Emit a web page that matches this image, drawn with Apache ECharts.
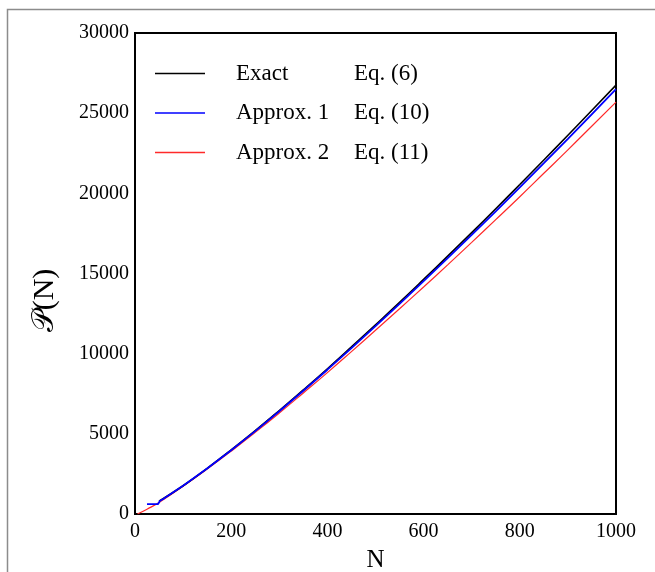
<!DOCTYPE html>
<html>
<head>
<meta charset="utf-8">
<script src="https://cdn.jsdelivr.net/npm/echarts@6/dist/echarts.min.js"></script>
<style>
  html, body { margin: 0; padding: 0; background: #fff; }
  #chart { width: 655px; height: 572px; }
</style>
</head>
<body>
<div id="chart"></div>
<script>
// values
var nExact = [50, 100, 150, 200, 250, 300, 350, 400, 450, 500, 550, 600, 650, 700, 750, 800, 850, 900, 950, 1000];
var pExact = [800, 1760, 2850, 4000, 5200, 6450, 7740, 9060, 10420, 11800, 13200, 14630, 16080, 17550, 19040, 20550, 22080, 23620, 25180, 26750];

var nApprox1 = [25, 48, 52, 60, 100, 150, 200, 250, 300, 350, 400, 450, 500, 550, 600, 650, 700, 750, 800, 850, 900, 950, 1000];
var pApprox1 = [620, 620, 830, 960, 1760, 2840, 3980, 5170, 6410, 7690, 9000, 10350, 11720, 13110, 14530, 15960, 17410, 18880, 20370, 21880, 23400, 24945, 26500];

var nApprox2 = [5, 25, 50, 100, 150, 200, 250, 300, 350, 400, 450, 500, 550, 600, 650, 700, 750, 800, 850, 900, 950, 1000];
var pApprox2 = [0, 300, 720, 1730, 2800, 3920, 5090, 6300, 7550, 8820, 10130, 11460, 12800, 14160, 15540, 16940, 18360, 19790, 21250, 22710, 24200, 25690];

var legendNames = ["Exact", "Approx. 1", "Approx. 2"];
var legendEqs = ["Eq. (6)", "Eq. (10)", "Eq. (11)"];

function pairs(xs, ys) {
  var out = [];
  for (var i = 0; i < xs.length; i++) out.push([xs[i], ys[i]]);
  return out;
}

function plain(v) {
  return String(v);
}

var serif = "'Liberation Serif', 'DejaVu Serif', serif";

var chart = echarts.init(document.getElementById("chart"));
chart.setOption({
  backgroundColor: "#fff",
  animation: false,
  graphic: [
    {
      type: "rect",
      shape: { x: 7.5, y: 9.5, width: 700, height: 600 },
      style: { fill: "none", stroke: "#8c8c8c", lineWidth: 1.5 },
      silent: true
    }
  ],
  grid: {
    left: 135,
    right: 39,
    top: 33,
    bottom: 58,
    outerBoundsMode: "none",
    containLabel: false,
    show: true,
    borderColor: "#000",
    borderWidth: 2
  },
  legend: {
    orient: "vertical",
    left: 150,
    top: 57,
    icon: "rect",
    itemWidth: 50,
    itemHeight: 1.5,
    itemGap: 16.5,
    data: legendNames,
    formatter: function(name) {
      var i = legendNames.indexOf(name);
      return "{a|" + name + "}{b|" + legendEqs[i] + "}";
    },
    textStyle: {
      fontFamily: serif,
      fontSize: 23,
      color: "#000",
      padding: [0, 0, 0, 26],
      rich: {
        a: { width: 118, height: 26, fontFamily: serif, fontSize: 23, color: "#000" },
        b: { height: 26, fontFamily: serif, fontSize: 23, color: "#000" }
      }
    }
  },
  xAxis: {
    type: "value",
    min: 0,
    max: 1000,
    interval: 200,
    name: "N",
    nameLocation: "center",
    nameGap: 34,
    nameTextStyle: { fontFamily: serif, fontSize: 25, color: "#000" },
    axisLine: { lineStyle: { color: "#000", width: 2 } },
    axisTick: { show: false },
    splitLine: { show: false },
    axisLabel: { fontFamily: serif, fontSize: 20, color: "#000", margin: 8, formatter: plain }
  },
  yAxis: {
    type: "value",
    min: 0,
    max: 30000,
    interval: 5000,
    name: "\uD835\uDCAB(N)",
    nameLocation: "center",
    nameGap: 75,
    nameTextStyle: { fontFamily: serif, fontSize: 30, color: "#000", padding: [0, 54, 0, 0] },
    axisLine: { lineStyle: { color: "#000", width: 2 } },
    axisTick: { show: false },
    splitLine: { show: false },
    axisLabel: { fontFamily: serif, fontSize: 20, color: "#000", margin: 6, formatter: plain }
  },
  series: [
    {
      name: "Approx. 2",
      type: "line",
      showSymbol: false,
      symbol: "none",
      smooth: true,
      data: pairs(nApprox2, pApprox2),
      lineStyle: { color: "#ff2a2a", width: 1.2 },
      itemStyle: { color: "#ff2a2a" }
    },
    {
      name: "Exact",
      type: "line",
      showSymbol: false,
      symbol: "none",
      smooth: true,
      data: pairs(nExact, pExact),
      lineStyle: { color: "#000", width: 1.6 },
      itemStyle: { color: "#000" }
    },
    {
      name: "Approx. 1",
      type: "line",
      showSymbol: false,
      symbol: "none",
      data: pairs(nApprox1, pApprox1),
      lineStyle: { color: "#0000ff", width: 1.8 },
      itemStyle: { color: "#0000ff" }
    }
  ]
});
</script>
</body>
</html>
